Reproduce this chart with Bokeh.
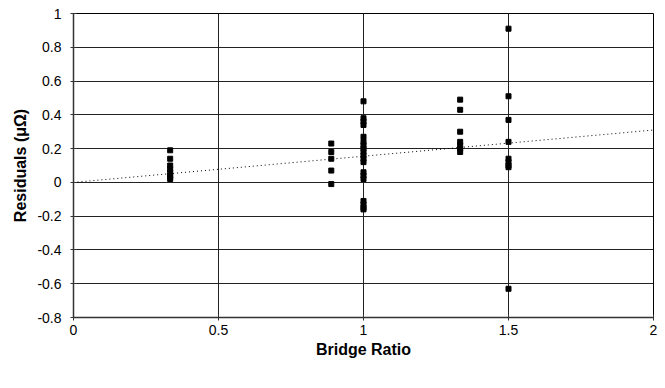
from bokeh.plotting import figure
from bokeh.embed import file_html
from bokeh.resources import INLINE
from bokeh.models import Range1d, FixedTicker, ColumnDataSource

# Data
ratio_a = [1/3] * 8
resid_a = [0.19, 0.14, 0.10, 0.08, 0.06, 0.04, 0.03, 0.02]
ratio_b = [8/9] * 5
resid_b = [0.23, 0.18, 0.14, 0.07, -0.01]
ratio_c = [1.0] * 19
resid_c = [0.48, 0.38, 0.36, 0.34, 0.27, 0.24, 0.22, 0.20, 0.18, 0.16, 0.14, 0.12,
           0.06, 0.04, 0.02, -0.11, -0.13, -0.15, -0.16]
ratio_d = [4/3] * 7
resid_d = [0.49, 0.43, 0.30, 0.24, 0.22, 0.20, 0.18]
ratio_e = [1.5] * 9
resid_e = [0.91, 0.51, 0.37, 0.24, 0.14, 0.12, 0.10, 0.09, -0.63]

trend_x = [0.0, 2.0]
trend_y = [0.0, 0.31]

x_ticks = [0, 0.5, 1, 1.5, 2]
y_ticks = [-0.8, -0.6, -0.4, -0.2, 0, 0.2, 0.4, 0.6, 0.8, 1]

xs = ratio_a + ratio_b + ratio_c + ratio_d + ratio_e
ys = resid_a + resid_b + resid_c + resid_d + resid_e
src = ColumnDataSource(data=dict(x=xs, y=ys))

FONT = "Liberation Sans"

p = figure(width=657, height=372, output_backend="svg", toolbar_location=None,
           x_range=Range1d(0, 2), y_range=Range1d(-0.8, 1),
           min_border_left=73, min_border_right=4, min_border_top=13, min_border_bottom=55)
p.background_fill_color = "white"
p.border_fill_color = "white"
p.outline_line_color = "black"
p.outline_line_width = 1

# grids
p.xgrid.ticker = FixedTicker(ticks=x_ticks)
p.ygrid.ticker = FixedTicker(ticks=y_ticks)
for g in (p.xgrid, p.ygrid):
    g.grid_line_color = "#222222"
    g.grid_line_width = 1

# axes
p.xaxis.ticker = FixedTicker(ticks=x_ticks)
p.yaxis.ticker = FixedTicker(ticks=y_ticks)
p.xaxis.major_label_overrides = {0: "0", 0.5: "0.5", 1: "1", 1.5: "1.5", 2: "2"}
p.yaxis.major_label_overrides = {-0.8: "-0.8", -0.6: "-0.6", -0.4: "-0.4", -0.2: "-0.2",
                                 0: "0", 0.2: "0.2", 0.4: "0.4", 0.6: "0.6", 0.8: "0.8", 1: "1"}
for ax in (p.xaxis, p.yaxis):
    ax.axis_line_color = "#333333"
    ax.axis_line_width = 1.5
    ax.major_tick_line_color = "#333333"
    ax.major_tick_in = 3
    ax.major_tick_out = 3
    ax.minor_tick_line_color = None
    ax.major_label_text_font = FONT
    ax.major_label_text_font_size = "14px"
    ax.major_label_text_color = "black"
    ax.axis_label_text_font = FONT
    ax.axis_label_text_font_style = "bold"
    ax.axis_label_text_font_size = "16px"
    ax.axis_label_text_color = "black"

p.xaxis.axis_label = "Bridge Ratio"
p.yaxis.axis_label = "Residuals (\u03bc\u03a9)"
p.xaxis.major_label_standoff = 4
p.yaxis.major_label_standoff = 9
p.xaxis.axis_label_standoff = 3
p.yaxis.axis_label_standoff = 5

# trend line
p.line(trend_x, trend_y, line_color="black", line_width=1, line_dash="1 3")

# points
p.scatter("x", "y", source=src, marker="square", size=5, fill_color="black", line_color="black")

open("out.html", "w").write(file_html(p, INLINE))
